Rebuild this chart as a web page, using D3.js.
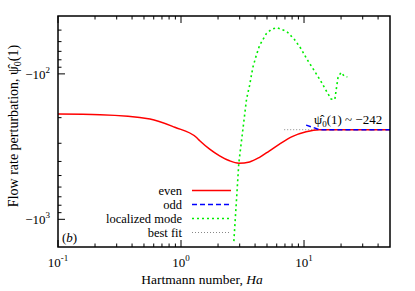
<!DOCTYPE html>
<html>
<head>
<meta charset="utf-8">
<script src="https://cdn.jsdelivr.net/npm/d3@7"></script>
<style>
  body { margin: 0; background: #fff; }
  text { font-family: "Liberation Serif", "Times New Roman", serif; fill: #000; }
</style>
</head>
<body>
<div id="chart"></div>
<script>
// values: x = Hartmann number, y = flow rate perturbation
const evenHa  = [0.1, 0.22, 0.56, 0.89, 1.33, 1.42, 1.71, 2.06, 2.48, 2.95, 3.61, 4.35, 5.24, 6.32, 8.09, 10.4, 13.3, 20, 30, 50];
const evenVal = [-189, -191, -204, -233, -273, -288, -329, -366, -396, -411, -403, -375, -338, -304, -269, -250, -242, -242, -242, -242];

const oddHa  = [10.4, 11.8, 13.7, 20, 30, 50];
const oddVal = [-225, -233, -242, -242, -242, -242];

const locHa  = [2.69, 2.95, 3.41, 3.61, 3.84, 4.09, 4.35, 4.93, 5.41, 6.01, 7.24, 8.36, 9.47, 10.6, 12.1, 13.6, 15.1, 16.6, 17.8, 18.4, 18.9, 20.0, 21.3, 22.5];
const locVal = [-1412, -411, -149, -120, -90, -74.8, -63.8, -53.0, -49.5, -48.0, -51.1, -58.0, -67.3, -79.7, -94.9, -111, -130, -149, -150, -123, -106, -97.7, -104, -105];

const fitHa  = [6.9, 50];
const fitVal = [-242, -242];

const xMajor = [0.1, 1, 10];
const yMajor = [-100, -1000];
const legendNames = ["even", "odd", "localized mode", "best fit"];

const W = 415, H = 291;
const margin = {top: 16, right: 25, bottom: 44, left: 58};

const svg = d3.select("#chart").append("svg")
    .attr("width", W).attr("height", H);

const x = d3.scaleLog().domain([0.1, 50]).range([margin.left, W - margin.right]);
const y = d3.scaleLog().domain([-40, -1550]).range([margin.top, H - margin.bottom]);

const zip = (a, b) => a.map((v, i) => [v, b[i]]);
const line = d3.line().x(d => x(d[0])).y(d => y(d[1])).curve(d3.curveMonotoneX);
const lineLin = d3.line().x(d => x(d[0])).y(d => y(d[1]));

const series = [
  {name: "best fit", data: zip(fitHa, fitVal), color: "#888", width: 1, dash: "1,2", gen: lineLin},
  {name: "even", data: zip(evenHa, evenVal), color: "#ff0000", width: 1.5, dash: null, gen: line},
  {name: "odd", data: zip(oddHa, oddVal), color: "#0000ff", width: 1.5, dash: "5,3", gen: line},
  {name: "localized mode", data: zip(locHa, locVal), color: "#00ee00", width: 1.6, dash: "2,3", gen: lineLin}
];

// clip to plot area
svg.append("clipPath").attr("id", "clip").append("rect")
    .attr("x", margin.left).attr("y", margin.top)
    .attr("width", W - margin.right - margin.left)
    .attr("height", H - margin.bottom - margin.top);

const plot = svg.append("g").attr("clip-path", "url(#clip)");
series.forEach(s => {
  plot.append("path")
      .attr("d", s.gen(s.data))
      .attr("fill", "none")
      .attr("stroke", s.color)
      .attr("stroke-width", s.width)
      .attr("stroke-dasharray", s.dash);
});

// ticks (inward), minor ticks on log decades
const x0 = margin.left, x1 = W - margin.right, y0 = margin.top, y1 = H - margin.bottom;
let xMinor = [];
[0.1, 1, 10].forEach(d => { for (let k = 2; k <= 9; k++) if (d * k < 50) xMinor.push(d * k); });
let yMinor = [];
[-10, -100, -1000].forEach(d => { for (let k = 2; k <= 9; k++) { const v = d * k; if (v < -40 && v > -1550) yMinor.push(v); } });

const tk = svg.append("g").attr("stroke", "#000").attr("stroke-width", 1);
xMajor.concat(xMinor).forEach(v => {
  const len = xMajor.includes(v) ? 7 : 3.5;
  tk.append("line").attr("x1", x(v)).attr("x2", x(v)).attr("y1", y1).attr("y2", y1 - len);
  tk.append("line").attr("x1", x(v)).attr("x2", x(v)).attr("y1", y0).attr("y2", y0 + len);
});
yMajor.concat(yMinor).forEach(v => {
  const len = yMajor.includes(v) ? 7 : 3.5;
  tk.append("line").attr("x1", x0).attr("x2", x0 + len).attr("y1", y(v)).attr("y2", y(v));
});

// frame
svg.append("rect")
    .attr("x", x0).attr("y", y0).attr("width", x1 - x0).attr("height", y1 - y0)
    .attr("fill", "none").attr("stroke", "#000").attr("stroke-width", 1.5);

// tick labels
xMajor.forEach(v => {
  const t = svg.append("text").attr("x", x(v)).attr("y", 267)
      .attr("text-anchor", "middle").style("font-size", "13px");
  t.append("tspan").text("10");
  t.append("tspan").attr("dy", -6).style("font-size", "9px").text(Math.round(Math.log10(v)));
});
yMajor.forEach(v => {
  const t = svg.append("text").attr("x", 50).attr("y", y(v) + 5)
      .attr("text-anchor", "end").style("font-size", "13px");
  t.append("tspan").text("\u221210");
  t.append("tspan").attr("dy", -6).style("font-size", "9px").text(Math.round(Math.log10(-v)));
});

// axis titles
const xt = svg.append("text").attr("x", 202).attr("y", 284)
    .attr("text-anchor", "middle").style("font-size", "13.5px");
xt.append("tspan").text("Hartmann number, ");
xt.append("tspan").style("font-style", "italic").text("Ha");

const yt = svg.append("text")
    .attr("transform", "translate(18,126) rotate(-90)")
    .attr("text-anchor", "middle").style("font-size", "14px");
yt.append("tspan").text("Flow rate perturbation, \u03C8\u0302");
yt.append("tspan").attr("dy", 3).style("font-size", "10px").text("0");
yt.append("tspan").attr("dy", -3).text("(1)");

// annotation
const an = svg.append("text").attr("x", 314).attr("y", 124).style("font-size", "13px");
an.append("tspan").text("\u03C8\u0302");
an.append("tspan").attr("dy", 3).style("font-size", "9px").text("0");
an.append("tspan").attr("dy", -3).text("(1) ~ \u2212242");

// (b) panel label
const pl = svg.append("text").attr("x", 62).attr("y", 242).style("font-size", "13px");
pl.append("tspan").text("(");
pl.append("tspan").style("font-style", "italic").text("b");
pl.append("tspan").text(")");

// legend
const legendOrder = ["even", "odd", "localized mode", "best fit"];
const lg = svg.append("g");
legendNames.forEach((n, i) => {
  const s = series.find(d => d.name === n);
  const ly = 190.5 + i * 14;
  lg.append("text").attr("x", 182).attr("y", ly + 4)
      .attr("text-anchor", "end").style("font-size", "12.5px").text(n);
  lg.append("line").attr("x1", 192).attr("x2", 231).attr("y1", ly).attr("y2", ly)
      .attr("stroke", s.color).attr("stroke-width", s.width)
      .attr("stroke-dasharray", s.dash);
});
</script>
</body>
</html>
